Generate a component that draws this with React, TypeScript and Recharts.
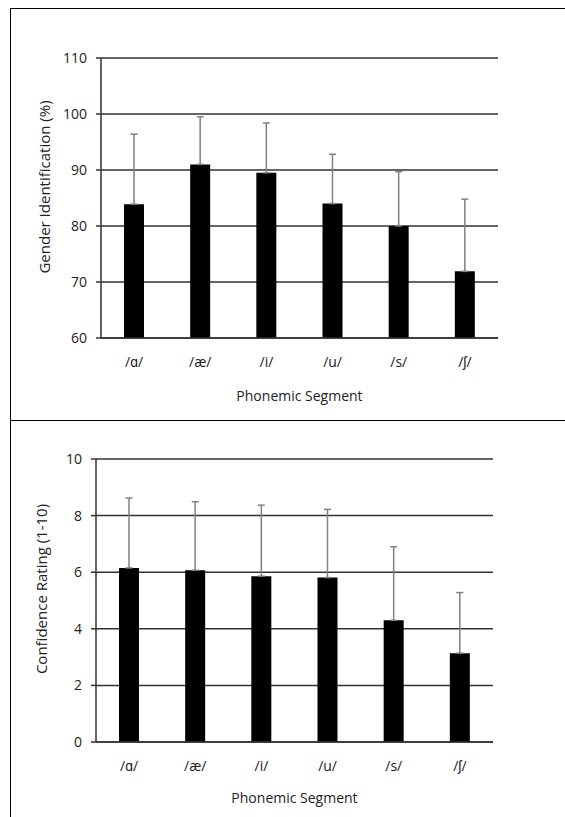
import React from 'react';
import { BarChart, Bar, XAxis, YAxis, CartesianGrid, ErrorBar } from 'recharts';

const segments = ['/ɑ/', '/æ/', '/i/', '/u/', '/s/', '/ʃ/'];
const genderId = [83.9, 91.0, 89.5, 84.0, 80.0, 71.9];
const genderErr = [12.5, 8.5, 8.9, 8.8, 9.7, 12.9];
const genderTicks = [60, 70, 80, 90, 100, 110];
const confidence = [6.15, 6.07, 5.86, 5.81, 4.3, 3.14];
const confidenceErr = [2.47, 2.42, 2.51, 2.41, 2.6, 2.14];
const confidenceTicks = [0, 2, 4, 6, 8, 10];

const genderData = segments.map((s, i) => ({ seg: s, value: genderId[i], err: [0, genderErr[i]] }));
const confData = segments.map((s, i) => ({ seg: s, value: confidence[i], err: [0, confidenceErr[i]] }));

const FONT = '"Open Sans", sans-serif';
const textStyle = { fontFamily: FONT, fontSize: 14, fill: '#222' };
const yLabelStyle = { fontFamily: FONT, fontSize: 15, fill: '#222', textAnchor: 'middle' };
const gridColor = '#333';

function Panel(props: {
  data: any[];
  width: number;
  height: number;
  margin: any;
  yWidth: number;
  xHeight: number;
  domain: [number, number];
  ticks: number[];
  yLabel: string;
  yDx: number;
  yDy: number;
  titleOffset: number;
}) {
  return (
    <BarChart width={props.width} height={props.height} data={props.data} margin={props.margin} barCategoryGap={0}>
      <CartesianGrid vertical={false} horizontal={true} stroke={gridColor} strokeWidth={1.5} />
      <XAxis
        dataKey="seg"
        height={props.xHeight}
        tickLine={false}
        tickSize={0}
        tickMargin={19}
        axisLine={{ stroke: gridColor, strokeWidth: 1.5 }}
        tick={textStyle}
        interval={0}
        label={{ value: 'Phonemic Segment', position: 'insideBottom', offset: props.titleOffset, style: textStyle }}
      />
      <YAxis
        width={props.yWidth}
        domain={props.domain}
        ticks={props.ticks}
        interval={0}
        tickSize={5}
        tickMargin={9}
        tickLine={{ stroke: gridColor, strokeWidth: 1.5 }}
        axisLine={{ stroke: gridColor, strokeWidth: 1.5 }}
        tick={textStyle}
        allowDataOverflow={true}
        label={{ value: props.yLabel, angle: -90, position: 'center', dx: props.yDx, dy: props.yDy, style: yLabelStyle }}
      />
      <Bar dataKey="value" fill="#000" barSize={20} isAnimationActive={false}>
        <ErrorBar dataKey="err" width={3.5} stroke="#808080" strokeWidth={1.5} direction="y" />
      </Bar>
    </BarChart>
  );
}

export default function App() {
  return (
    <div style={{ position: 'absolute', left: 0, top: 0, width: 565, height: 817, overflow: 'hidden', background: '#fff' }}>
      <div style={{ position: 'absolute', left: 10, top: 8, width: 600, height: 413, border: '1px solid #000', boxSizing: 'border-box' }} />
      <div style={{ position: 'absolute', left: 10, top: 420, width: 600, height: 500, border: '1.5px solid #000', boxSizing: 'border-box' }} />
      <div style={{ position: 'absolute', left: 0, top: 0 }}>
        <Panel
          data={genderData}
          width={565}
          height={410}
          margin={{ top: 58, right: 67, bottom: 0, left: 0 }}
          yWidth={101}
          xHeight={72}
          domain={[60, 110]}
          ticks={genderTicks}
          yLabel="Gender Identification (%)"
          yDx={-5.5}
          yDy={-11}
          titleOffset={9}
        />
      </div>
      <div style={{ position: 'absolute', left: 0, top: 421 }}>
        <Panel
          data={confData}
          width={565}
          height={396}
          margin={{ top: 38, right: 72, bottom: 0, left: 0 }}
          yWidth={96}
          xHeight={75}
          domain={[0, 10]}
          ticks={confidenceTicks}
          yLabel="Confidence Rating (1-10)"
          yDx={-6}
          yDy={-11.5}
          titleOffset={14}
        />
      </div>
    </div>
  );
}
